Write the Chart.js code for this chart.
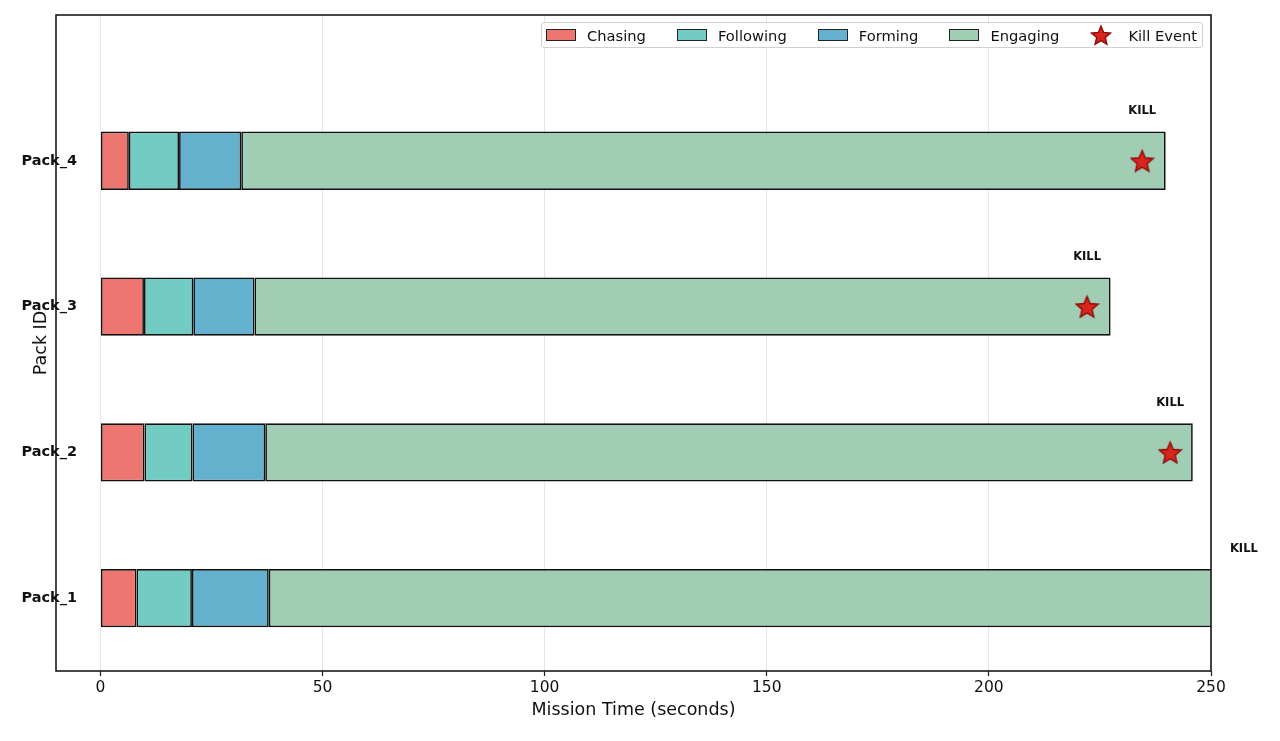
<!DOCTYPE html>
<html>
<head>
<meta charset="utf-8">
<script src="https://cdn.jsdelivr.net/npm/chart.js@4"></script>
<style>
  html, body { margin: 0; padding: 0; background: #fff; }
  #wrap { position: relative; width: 1280px; height: 741px; }
  #legend {
    position: absolute; left: 541px; top: 22px; width: 662px; height: 26px;
    border: 1px solid #d0d0d0; border-radius: 3px; background: rgba(255,255,255,0.85);
    font-family: "DejaVu Sans", sans-serif; font-size: 14.7px; color: #111;
    display: flex; align-items: center; box-sizing: border-box; padding-left: 4px;
  }
  #legend .item { display: flex; align-items: center; margin-right: 31px; }
  #legend .item:last-child { margin-right: 0; }
  #legend .patch { width: 30px; height: 12px; border: 1px solid #222; box-sizing: border-box; margin-right: 11px; }
  #legend canvas { margin-right: 16px; }
</style>
</head>
<body>
<div id="wrap">
  <canvas id="chart" width="1280" height="741"></canvas>
  <div id="legend"></div>
</div>
<script>
const packs = ["Pack_1", "Pack_2", "Pack_3", "Pack_4"];
const phases = ["Chasing", "Following", "Forming", "Engaging"];
const phaseColors = ["#ee7671", "#72ccc3", "#64b1ce", "#a2cdb5"];

// duration of each phase (seconds), one value per pack
const chasing = [8.1, 9.9, 9.8, 6.4];
const following = [12.5, 10.8, 11.1, 11.3];
const forming = [17.3, 16.4, 13.8, 14.0];
const engaging = [224.7, 208.8, 192.7, 208.1];
const killTimes = [257.4, 240.8, 222.1, 234.5];

const xTicks = [0, 50, 100, 150, 200, 250];

function makeStar(size) {
  const c = document.createElement("canvas");
  c.width = size; c.height = size;
  const g = c.getContext("2d");
  const cx = size / 2, cy = size / 2 + size * 0.05;
  const R = size / 2 - 1, r = R * 0.45;
  g.beginPath();
  for (let i = 0; i < 10; i++) {
    const a = -Math.PI / 2 + i * Math.PI / 5;
    const rad = i % 2 ? r : R;
    g.lineTo(cx + rad * Math.cos(a), cy + rad * Math.sin(a));
  }
  g.closePath();
  g.fillStyle = "#d9261c";
  g.fill();
  g.lineWidth = 1.4;
  g.strokeStyle = "#8b0d0a";
  g.stroke();
  return c;
}

const starImg = makeStar(25);

const durations = [chasing, following, forming, engaging];
const datasets = phases.map((name, k) => ({
  type: "bar",
  label: name,
  data: packs.map((p, i) => ({ x: durations[k][i], y: i })),
  backgroundColor: phaseColors[k],
  borderColor: "#111",
  borderWidth: 1.7,
  borderSkipped: false,
  categoryPercentage: 0.4,
  barPercentage: 1.0,
  stack: "phases"
}));

datasets.push({
  type: "scatter",
  label: "Kill Event",
  data: packs.map((p, i) => ({ x: killTimes[i], y: i })),
  pointStyle: starImg,
  stack: "kills",
  order: -1
});

const frame = {
  id: "frame",
  afterDraw(chart) {
    const { ctx, chartArea: a } = chart;
    const xs = chart.scales.x, ys = chart.scales.y;
    ctx.save();
    ctx.strokeStyle = "#1a1a1a";
    ctx.lineWidth = 1.6;
    ctx.strokeRect(a.left, a.top, a.right - a.left, a.bottom - a.top);
    ctx.fillStyle = "#111";
    ctx.textBaseline = "middle";
    // pack names
    ctx.font = "bold 14.5px 'DejaVu Sans'";
    ctx.textAlign = "right";
    packs.forEach((p, i) => ctx.fillText(p, 77, ys.getPixelForValue(i)));
    // KILL labels above each star
    ctx.font = "bold 11.5px 'DejaVu Sans'";
    ctx.textAlign = "center";
    killTimes.forEach((t, i) => {
      ctx.fillText("KILL", xs.getPixelForValue(t), ys.getPixelForValue(i + 0.338));
    });
    ctx.restore();
  }
};

new Chart(document.getElementById("chart"), {
  data: { datasets },
  options: {
    indexAxis: "y",
    responsive: false,
    animation: false,
    layout: { padding: { top: 15, right: 69, left: 0, bottom: 0 } },
    plugins: { legend: { display: false }, tooltip: { enabled: false } },
    scales: {
      x: {
        type: "linear",
        stacked: true,
        min: -10,
        max: 250,
        afterBuildTicks: s => { s.ticks = xTicks.map(v => ({ value: v })); },
        afterFit: s => { s.height = 70; },
        ticks: { color: "#111", font: { family: "DejaVu Sans", size: 15.5 }, padding: 3, maxRotation: 0 },
        grid: { color: "#e6e6e6", lineWidth: 1, tickColor: "#1a1a1a", tickLength: 5, tickWidth: 1.2 },
        border: { display: false },
        title: {
          display: true, text: "Mission Time (seconds)", color: "#111",
          font: { family: "DejaVu Sans", size: 17.5 }, padding: { top: 0, bottom: 20 }
        }
      },
      y: {
        type: "linear",
        stacked: true,
        offset: false,
        min: -0.5,
        max: 4,
        afterBuildTicks: s => { s.ticks = packs.map((p, i) => ({ value: i })); },
        afterFit: s => { s.width = 56; },
        ticks: { display: false },
        grid: { display: false, drawTicks: false },
        border: { display: false },
        title: {
          display: true, text: "Pack ID", color: "#111",
          font: { family: "DejaVu Sans", size: 17.5 }, padding: { top: 31, bottom: 0 }
        }
      }
    }
  },
  plugins: [frame]
});

// legend
const legend = document.getElementById("legend");
phases.forEach((name, k) => {
  const it = document.createElement("div");
  it.className = "item";
  const p = document.createElement("span");
  p.className = "patch";
  p.style.background = phaseColors[k];
  it.appendChild(p);
  it.appendChild(document.createTextNode(name));
  legend.appendChild(it);
});
const kill = document.createElement("div");
kill.className = "item";
kill.appendChild(makeStar(22));
kill.appendChild(document.createTextNode("Kill Event"));
legend.appendChild(kill);
</script>
</body>
</html>
